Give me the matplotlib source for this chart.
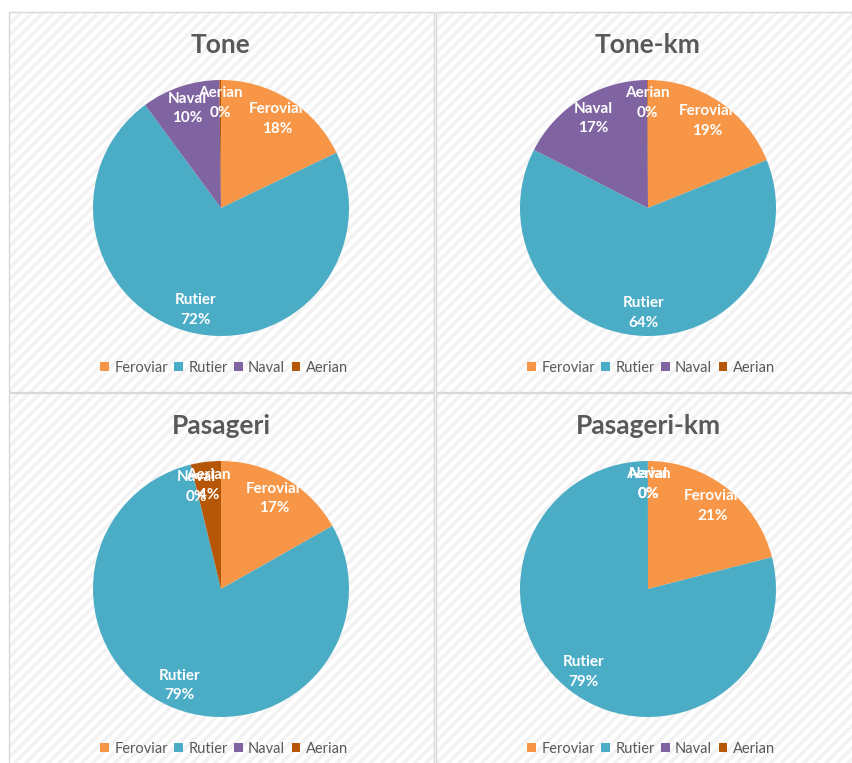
import matplotlib
matplotlib.use('Agg')
import matplotlib.pyplot as plt
from matplotlib.patches import Rectangle, Patch

# Data (share in %)
categories = ['Feroviar', 'Rutier', 'Naval', 'Aerian']
colors = ['#F79646', '#4BACC6', '#8064A2', '#B65708']

titles = ['Tone', 'Tone-km', 'Pasageri', 'Pasageri-km']
tone = [17.9, 72.0, 9.9, 0.2]
tone_km = [18.9, 63.6, 17.4, 0.1]
pasageri = [16.8, 79.4, 0.01, 3.8]
pasageri_km = [21.0, 78.98, 0.01, 0.01]
series = [tone, tone_km, pasageri, pasageri_km]

W, H = 853, 763
plt.rcParams['font.family'] = ['Lato', 'DejaVu Sans']
plt.rcParams['hatch.linewidth'] = 2.5

fig = plt.figure(figsize=(W / 100, H / 100), dpi=100)


def fx(px):
    return px / W


def fy(py):
    return 1 - py / H


# chart boxes: (left, top, right, bottom) in pixels
boxes = [(9, 12, 434, 392), (436, 12, 861, 392),
         (9, 393, 434, 773), (436, 393, 861, 773)]

for i, (vals, title) in enumerate(zip(series, titles)):
    l, t, r, b = boxes[i]
    bg = Rectangle((fx(l), fy(b)), fx(r - l), (b - t) / H, transform=fig.transFigure,
                   facecolor='white', edgecolor='#F2F2F2', linewidth=0,
                   hatch='///', zorder=-2)
    border = Rectangle((fx(l), fy(b)), fx(r - l), (b - t) / H, transform=fig.transFigure,
                       facecolor='none', edgecolor='#D9D9D9', linewidth=1.0, zorder=-1)
    fig.patches.extend([bg, border])

    cx = 221 if i % 2 == 0 else 648
    cy = t + 196
    rad = 128
    ax = fig.add_axes([fx(cx - rad), fy(cy + rad), 2 * rad / W, 2 * rad / H])

    total = sum(vals)
    labels = ['%s\n%d%%' % (c, round(v / total * 100)) for c, v in zip(categories, vals)]
    ax.pie(vals, colors=colors, startangle=90, counterclock=False, radius=1,
           labels=labels, labeldistance=0.82,
           wedgeprops=dict(linewidth=0),
           textprops=dict(color='white', fontweight='bold', fontsize=11,
                          ha='center', va='center', linespacing=1.5))
    ax.set_aspect('auto')
    ax.set_xlim(-1, 1)
    ax.set_ylim(-1, 1)
    ax.axis('off')

    fig.text(fx(cx), fy(t + 33), title, ha='center', va='center',
             fontsize=19, fontweight='bold', color='#595959')

    handles = [Patch(facecolor=c, edgecolor='none') for c in colors]
    fig.legend(handles, categories, loc='center', ncol=4, frameon=False,
               bbox_to_anchor=(fx(cx + 3), fy(t + 356)), fontsize=10.5,
               labelcolor='#595959', handlelength=0.6, handleheight=0.6,
               handletextpad=0.35, columnspacing=0.45)

fig.savefig('out.png', dpi=100)
